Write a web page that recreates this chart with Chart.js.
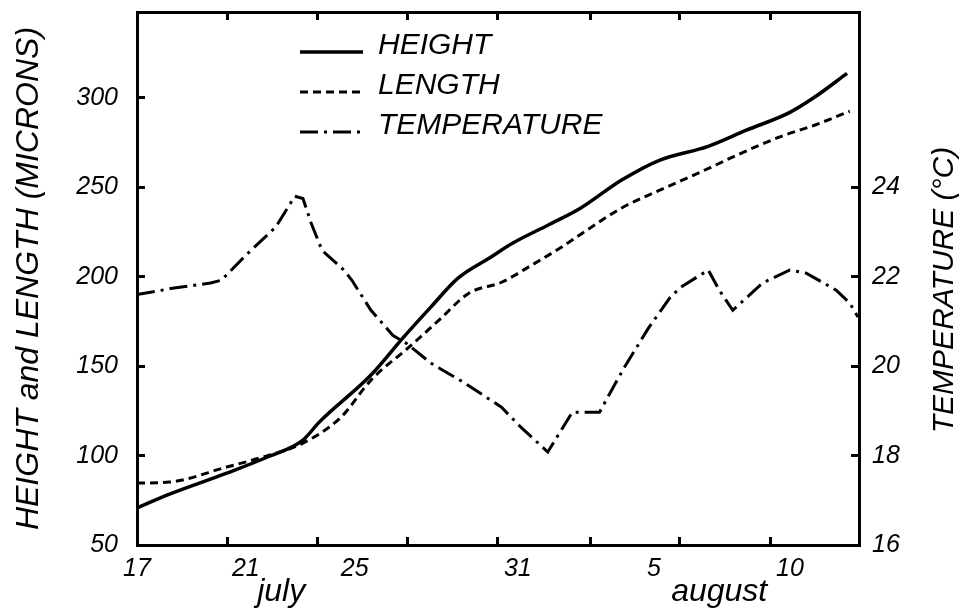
<!DOCTYPE html>
<html lang="en">
<head>
  <meta charset="UTF-8">
  <title>Height, length and temperature</title>
  <script src="https://cdn.jsdelivr.net/npm/chart.js"></script>
  <style>
    html, body { margin: 0; padding: 0; background: #fff; }
  </style>
</head>
<body>
  <canvas id="chart" width="961" height="613"></canvas>

  <script>
    // x values are days counted from 1 july (so 5 august = 36)
    const heightDays   = [17, 18.1, 20.3, 21.8, 23.1, 23.7, 25.6, 26.8, 27.8, 28.8, 30, 30.8, 32.1, 33.3, 34.8, 36.2, 38, 39.4, 41, 41.9, 43.1];
    const heightValues = [70.7, 77.9, 90.2, 99.2, 108.7, 118.7, 145, 166.2, 183, 199.2, 210.9, 218.7, 228.8, 238.3, 253.9, 265.1, 272.9, 281.9, 291.9, 300.3, 313.7];

    const lengthDays   = [17, 18.2, 20.3, 21.5, 23.1, 24.5, 25.6, 27, 28.1, 29.2, 30.4, 31.5, 32.6, 33.7, 34.8, 36.2, 37.7, 39.2, 40.6, 41.9, 43.2];
    const lengthValues = [84.6, 85.2, 93.6, 98.6, 107, 121.5, 142.2, 160.6, 175.7, 190.8, 196.9, 206.4, 216.5, 227.7, 238.3, 248.3, 258.4, 269, 278, 284.7, 292.5];

    const tempDays   = [17, 18.3, 19.7, 20.1, 21, 22.1, 22.8, 23.1, 23.4, 23.8, 24.6, 24.9, 25.6, 26.4, 26.9, 27.8, 28.1, 29, 30.4, 31.1, 32.1, 33, 34, 34.9, 35.8, 36.6, 37, 38, 38.4, 38.9, 40, 41, 41.6, 42.7, 43.2, 43.5];
    const tempValues = [21.6, 21.74, 21.86, 21.92, 22.48, 23.11, 23.8, 23.75, 23.2, 22.59, 22.15, 21.92, 21.25, 20.69, 20.51, 20.07, 19.96, 19.64, 19.08, 18.64, 18.08, 18.97, 18.97, 19.96, 20.85, 21.54, 21.77, 22.15, 21.7, 21.25, 21.86, 22.15, 22.08, 21.7, 21.41, 21.1];

    // axis ticks
    const tickMarkDays = [17, 20.31, 23.65, 26.96, 30.24, 33.66, 36.93, 40.27, 43.54];
    const dayLabelDays = [17, 21, 25, 31, 36, 41];
    const dayLabels    = ['17', '21', '25', '31', '5', '10'];
    const monthDays    = [22.3, 38.4];
    const monthLabels  = ['july', 'august'];
    const leftTicks    = [50, 100, 150, 200, 250, 300];
    const rightTicks   = [16, 18, 20, 22, 24];

    const FONT = '"Liberation Sans", Arial, sans-serif';
    const toXY = (xs, ys) => xs.map((x, i) => ({ x: x, y: ys[i] }));

    function bottomTicks() {
      const list = tickMarkDays.map(v => ({ value: v, mark: true }));
      dayLabelDays.forEach((v, i) => list.push({ value: v, text: dayLabels[i] }));
      monthDays.forEach((v, i) => list.push({ value: v, text: ['', monthLabels[i]], month: true }));
      return list.sort((a, b) => a.value - b.value);
    }

    // fixed axis size, and no extra room asked for the edge labels
    function fixSize(w, h) {
      return axis => {
        if (w) axis.width = w;
        if (h) axis.height = h;
        axis.paddingTop = axis.paddingBottom = axis.paddingLeft = axis.paddingRight = 0;
      };
    }

    // legend drawn inside the plot, using each dataset's own line style
    const inlineLegend = {
      id: 'inlineLegend',
      afterDatasetsDraw(chart) {
        const ctx = chart.ctx;
        chart.data.datasets.forEach((ds, i) => {
          const y = 52 + i * 40;
          ctx.save();
          ctx.strokeStyle = ds.borderColor;
          ctx.lineWidth = ds.borderWidth;
          ctx.setLineDash(ds.borderDash || []);
          ctx.beginPath();
          ctx.moveTo(300, y);
          ctx.lineTo(363, y);
          ctx.stroke();
          ctx.setLineDash([]);
          ctx.fillStyle = '#000';
          ctx.font = 'italic 30px ' + FONT;
          ctx.textBaseline = 'alphabetic';
          ctx.fillText(ds.label, 378, y + 2);
          ctx.restore();
        });
      }
    };

    // right axis title reads bottom to top, like the left one
    const rightTitle = {
      id: 'rightTitle',
      afterDraw(chart) {
        const ctx = chart.ctx;
        const s = chart.scales.y2;
        ctx.save();
        ctx.translate(s.right - 16, 290);
        ctx.rotate(-Math.PI / 2);
        ctx.fillStyle = '#000';
        ctx.font = 'italic 30px ' + FONT;
        ctx.textAlign = 'center';
        ctx.textBaseline = 'middle';
        ctx.fillText('TEMPERATURE (°C)', 0, 0);
        ctx.restore();
      }
    };

    const tickFont = { family: FONT, size: 25, style: 'italic' };
    const monthFont = { family: FONT, size: 32, style: 'italic', lineHeight: 0.8 };

    new Chart(document.getElementById('chart'), {
      type: 'line',
      data: {
        datasets: [{
          label: 'HEIGHT',
          data: toXY(heightDays, heightValues),
          yAxisID: 'y',
          borderColor: '#000',
          borderWidth: 3.5,
          cubicInterpolationMode: 'monotone',
          pointRadius: 0
        }, {
          label: 'LENGTH',
          data: toXY(lengthDays, lengthValues),
          yAxisID: 'y',
          borderColor: '#000',
          borderWidth: 3,
          borderDash: [8, 5],
          cubicInterpolationMode: 'monotone',
          pointRadius: 0
        }, {
          label: 'TEMPERATURE',
          data: toXY(tempDays, tempValues),
          yAxisID: 'y2',
          borderColor: '#000',
          borderWidth: 3,
          borderDash: [18, 6, 3, 6],
          tension: 0,
          pointRadius: 0
        }]
      },
      options: {
        responsive: false,
        animation: false,
        layout: { padding: 0 },
        plugins: {
          legend: { display: false },
          tooltip: { enabled: false }
        },
        scales: {
          x: {
            type: 'linear',
            position: 'bottom',
            min: 17,
            max: 43.54,
            afterBuildTicks: axis => { axis.ticks = bottomTicks(); },
            afterFit: fixSize(0, 68),
            border: { color: '#000', width: 3 },
            grid: {
              drawOnChartArea: false,
              tickLength: -8,
              tickWidth: 3,
              tickColor: c => (c.tick && c.tick.mark) ? '#000' : 'rgba(0,0,0,0)'
            },
            ticks: {
              autoSkip: false,
              maxRotation: 0,
              minRotation: 0,
              padding: 17,
              color: '#000',
              font: c => (c.tick && c.tick.month) ? monthFont : tickFont,
              callback: function (value, index, ticks) { return ticks[index].text || ''; }
            }
          },
          xTop: {
            type: 'linear',
            position: 'top',
            min: 17,
            max: 43.54,
            afterBuildTicks: axis => { axis.ticks = tickMarkDays.map(v => ({ value: v })); },
            afterFit: fixSize(0, 12),
            border: { color: '#000', width: 3 },
            grid: { drawOnChartArea: false, tickLength: -8, tickWidth: 3, tickColor: '#000' },
            ticks: { display: false }
          },
          y: {
            position: 'left',
            min: 50,
            max: 348,
            afterBuildTicks: axis => { axis.ticks = leftTicks.map(v => ({ value: v })); },
            afterFit: fixSize(137, 0),
            border: { color: '#000', width: 3 },
            grid: { drawOnChartArea: false, tickLength: -8, tickWidth: 3, tickColor: '#000' },
            ticks: { color: '#000', padding: 27, font: tickFont },
            title: {
              display: true,
              text: 'HEIGHT and LENGTH (MICRONS)',
              color: '#000',
              font: { family: FONT, size: 32, style: 'italic' },
              padding: { top: 10, bottom: 0 }
            }
          },
          y2: {
            position: 'right',
            min: 16,
            max: 27.92,
            afterBuildTicks: axis => { axis.ticks = rightTicks.map(v => ({ value: v })); },
            afterFit: fixSize(102, 0),
            border: { color: '#000', width: 3 },
            grid: { drawOnChartArea: false, tickLength: -8, tickWidth: 3, tickColor: '#000' },
            ticks: { color: '#000', padding: 21, font: tickFont }
          }
        }
      },
      plugins: [inlineLegend, rightTitle]
    });
  </script>
</body>
</html>
